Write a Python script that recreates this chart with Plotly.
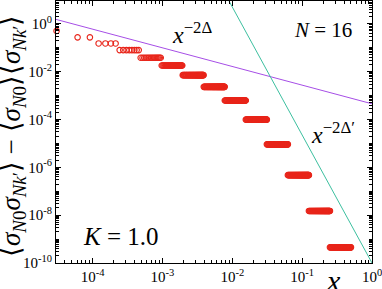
import numpy as np
import plotly.graph_objects as go

# ---------------- data ----------------
grid_exponent = 15                       # x = k / 2**15
cluster_octaves = list(range(14))        # cluster m holds k = 2**m .. 2**(m+1)-1
cluster_values = [5.0e-1, 2.7e-1, 1.5e-1, 7.9e-2, 3.8e-2, 1.8e-2, 7.1e-3,
                  2.3e-3, 6.2e-4, 9.8e-5, 9.1e-6, 4.7e-7, 1.5e-8, 4.5e-10]
max_points_per_cluster = 48

delta_exponent = 0.78          # slope of x^{-2Δ}
delta_coeff = 4.5e-4           # value at x = 1
deltap_exponent = 5.35         # slope of x^{-2Δ'}
deltap_coeff = 1.0e-10         # value at x = 1

x_ticks = [1e-4, 1e-3, 1e-2, 1e-1, 1e0]
x_ticktext = ["10<sup>-4</sup>", "10<sup>-3</sup>", "10<sup>-2</sup>", "10<sup>-1</sup>", "10<sup>0</sup>"]
y_ticks = [1e0, 1e-2, 1e-4, 1e-6, 1e-8, 1e-10]
y_ticktext = ["10<sup>0</sup>", "10<sup>-2</sup>", "10<sup>-4</sup>", "10<sup>-6</sup>", "10<sup>-8</sup>", "10<sup>-10</sup>"]

# ---------------- build points ----------------
xs, ys = [], []
for m, v in zip(cluster_octaves, cluster_values):
    lo, hi = 2 ** m, 2 ** (m + 1) - 1
    n = hi - lo + 1
    if n <= max_points_per_cluster:
        ks = np.arange(lo, hi + 1)
    else:
        ks = np.unique(np.round(np.linspace(lo, hi, max_points_per_cluster)))
    xs.extend([float(k) / 2.0 ** grid_exponent for k in ks])
    ys.extend([float(v)] * len(ks))

xmin = 2.0 ** -grid_exponent
line_x = np.array([xmin * 0.9, 1.0])

def minor_positions(e_lo, e_hi, majors):
    out = []
    for e in range(e_lo, e_hi + 1):
        for d in range(1, 10):
            v = d * 10.0 ** e
            if not any(abs(v - mj) / mj < 1e-9 for mj in majors):
                out.append(v)
    return out

W, H = 382, 289
L, R, T, B = 56, 10, 1, 26
FONT = "Liberation Serif"

def px(xp):
    return (xp - L) / (W - L - R)

def py(yp):
    return (H - B - yp) / (H - T - B)

marker_style = dict(symbol="circle-open", size=5.5, color="#e8251a",
                    line=dict(width=1.1, color="#e8251a"))

fig = go.Figure()
fig.add_trace(go.Scatter(x=line_x, y=delta_coeff * line_x ** (-delta_exponent),
                         mode="lines", line=dict(color="#a64ee6", width=1), hoverinfo="skip"))
fig.add_trace(go.Scatter(x=line_x, y=deltap_coeff * line_x ** (-deltap_exponent),
                         mode="lines", line=dict(color="#3cbf9f", width=1), hoverinfo="skip"))
# the first point sits on the left frame; draw it unclipped
fig.add_trace(go.Scatter(x=[xs[0]], y=[ys[0]], mode="markers", cliponaxis=False, marker=marker_style))
fig.add_trace(go.Scatter(x=xs[1:], y=ys[1:], mode="markers", cliponaxis=True, marker=marker_style))

axis_common = dict(type="log", showgrid=False, zeroline=False, showline=True,
                   linecolor="black", linewidth=1, mirror="allticks",
                   ticks="inside", ticklen=5, tickcolor="black", tickwidth=1,
                   ticklabeloverflow="allow",
                   tickfont=dict(family=FONT, size=15, color="black"))

fig.update_xaxes(**axis_common, range=[np.log10(xmin) - 0.008, 0], tickmode="array",
                 tickvals=x_ticks, ticktext=x_ticktext,
                 minor=dict(ticks="inside", ticklen=3, tickmode="array",
                            tickvals=minor_positions(-5, -1, x_ticks),
                            tickcolor="black", tickwidth=1, showgrid=False))
fig.update_yaxes(**axis_common, range=[-10, 0.95], tickmode="array",
                 tickvals=y_ticks, ticktext=y_ticktext,
                 minor=dict(ticks="inside", ticklen=3, tickmode="array",
                            tickvals=minor_positions(-10, 0, y_ticks),
                            tickcolor="black", tickwidth=1, showgrid=False))

annots = [
    dict(x=px(192), y=py(33), text="<i>x</i><sup>−2Δ</sup>", size=24),
    dict(x=px(323), y=py(30), text="<i>N</i> = 16", size=21),
    dict(x=px(333), y=py(133), text="<i>x</i><sup>−2Δ′</sup>", size=24),
    dict(x=px(121), y=py(236), text="<i>K</i> = 1.0", size=25),
    dict(x=px(333), y=py(280), text="<i>x</i>", size=30),
]
for a in annots:
    fig.add_annotation(x=a["x"], y=a["y"], xref="paper", yref="paper", text=a["text"],
                       showarrow=False, xanchor="center", yanchor="middle",
                       font=dict(family=FONT, size=a["size"], color="black"))

fig.add_annotation(x=px(13), y=py(136), xref="paper", yref="paper", textangle=-90,
                   text="⟨<i>σ</i><sub><i>N</i>0</sub><i>σ</i><sub><i>Nk</i>′</sub>⟩ − ⟨<i>σ</i><sub><i>N</i>0</sub>⟩⟨<i>σ</i><sub><i>Nk</i>′</sub>⟩",
                   showarrow=False, xanchor="center", yanchor="middle",
                   font=dict(family=FONT, size=27, color="black"))

fig.update_layout(width=W, height=H, margin=dict(l=L, r=R, t=T, b=B),
                  paper_bgcolor="white", plot_bgcolor="white", showlegend=False)

fig.write_html("out.html", post_script="document.body.style.margin='0';",
               config={"displayModeBar": False})
